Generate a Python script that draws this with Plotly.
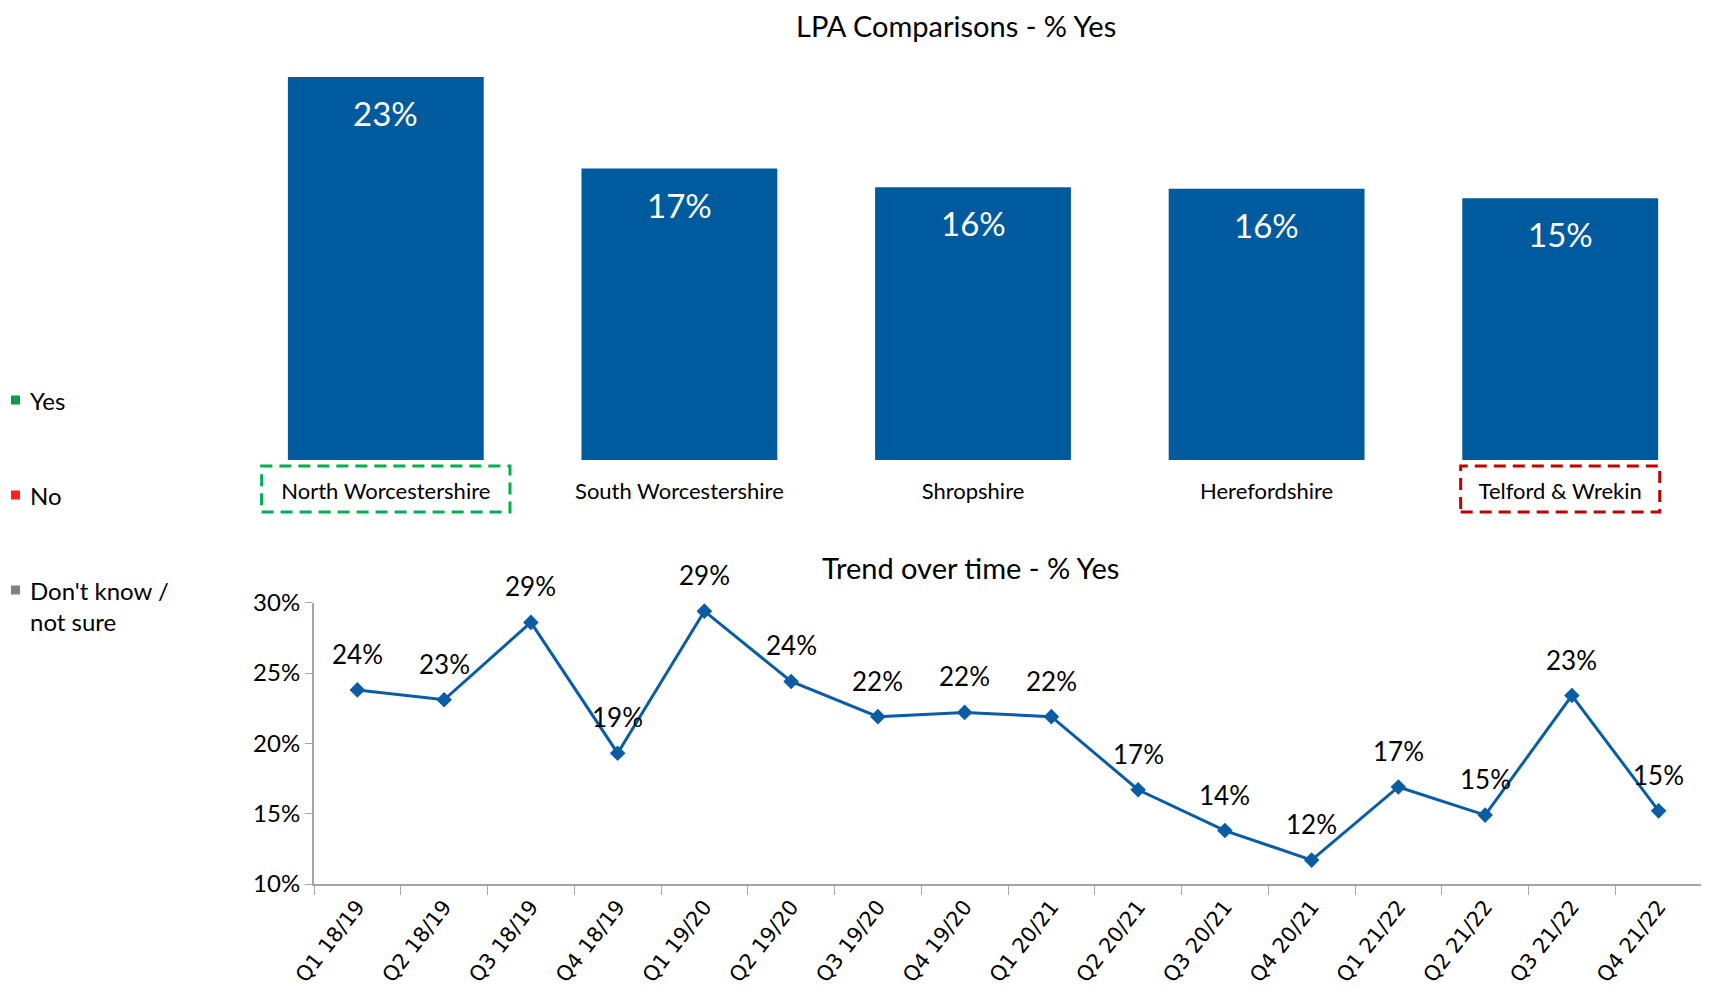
import plotly.graph_objects as go

# ---- data ----
lpa_names = ["North Worcestershire", "South Worcestershire", "Shropshire", "Herefordshire", "Telford & Wrekin"]
lpa_yes = [22.6, 17.2, 16.1, 16.0, 15.45]

quarters = ["Q1 18/19", "Q2 18/19", "Q3 18/19", "Q4 18/19",
            "Q1 19/20", "Q2 19/20", "Q3 19/20", "Q4 19/20",
            "Q1 20/21", "Q2 20/21", "Q3 20/21", "Q4 20/21",
            "Q1 21/22", "Q2 21/22", "Q3 21/22", "Q4 21/22"]
trend_yes = [23.8, 23.1, 28.6, 19.3, 29.4, 24.4, 21.9, 22.2,
             21.9, 16.7, 13.8, 11.7, 16.9, 14.9, 23.4, 15.2]

trend_ticks = [10, 15, 20, 25, 30]
trend_tick_labels = ["10%", "15%", "20%", "25%", "30%"]
legend_items = ["Yes", "No", "Don't know /<br>not sure"]
legend_colors = ["#00A04A", "#FF2020", "#808080"]

W, H = 1709, 1004
OFF = 8  # page body margin
FONT = "Lato"
BAR_COLOR = "#005A9E"
LINE_COLOR = "#0A5CA4"


def px(x):
    return (x - OFF) / W


def py(y):
    return 1 - (y - OFF) / H


fig = go.Figure()

fig.add_trace(go.Bar(
    x=lpa_names, y=lpa_yes, marker_color=BAR_COLOR, marker_line_width=0,
    xaxis="x", yaxis="y", showlegend=False, hoverinfo="x+y"))

fig.add_trace(go.Scatter(
    x=quarters, y=trend_yes, mode="lines+markers",
    line=dict(color=LINE_COLOR, width=3),
    marker=dict(symbol="diamond", size=12, color=LINE_COLOR),
    xaxis="x2", yaxis="y2", showlegend=False))

annotations = []
for name, v in zip(lpa_names, lpa_yes):
    annotations.append(dict(x=name, y=v, xref="x", yref="y", text=f"{v:.0f}%",
                            showarrow=False, yshift=-36, yanchor="middle",
                            font=dict(family=FONT, size=33, color="white")))
for q, v in zip(quarters, trend_yes):
    annotations.append(dict(x=q, y=v, xref="x2", yref="y2", text=f"{v:.0f}%",
                            showarrow=False, yshift=36, yanchor="middle",
                            font=dict(family=FONT, size=26, color="black")))

# titles
annotations.append(dict(x=px(956), y=py(26), xref="paper", yref="paper",
                        text="LPA Comparisons - % Yes", showarrow=False, borderpad=0,
                        yanchor="middle", font=dict(family=FONT, size=29, color="black")))
annotations.append(dict(x=px(970), y=py(567), xref="paper", yref="paper",
                        text="Trend over time - % Yes", showarrow=False,
                        yanchor="middle", font=dict(family=FONT, size=29, color="black")))

shapes = []
# left legend
leg_y = [400, 495, 590]
for txt, col, yy in zip(legend_items, legend_colors, leg_y):
    shapes.append(dict(type="rect", xref="paper", yref="paper",
                       x0=px(11), x1=px(20), y0=py(yy + 4.5), y1=py(yy - 4.5),
                       fillcolor=col, line_width=0))
    annotations.append(dict(x=px(28), y=py(yy - 16), xref="paper", yref="paper",
                            text=txt, showarrow=False, xanchor="left", yanchor="top", align="left",
                            font=dict(family=FONT, size=24, color="black")))

# dashed highlight boxes
shapes.append(dict(type="rect", xref="x", yref="paper",
                   x0=-0.423, x1=0.423, y0=py(512), y1=py(466),
                   line=dict(color="#00B050", width=3, dash="12px,7px")))
shapes.append(dict(type="rect", xref="x", yref="paper",
                   x0=4 - 0.339, x1=4 + 0.339, y0=py(512), y1=py(466),
                   line=dict(color="#C00000", width=3, dash="12px,7px")))

fig.update_layout(
    width=W, height=H,
    margin=dict(l=0, r=0, t=0, b=0, autoexpand=False),
    paper_bgcolor="white", plot_bgcolor="white",
    font=dict(family=FONT, color="black"),
    bargap=0.333,
    xaxis=dict(domain=[px(239), px(1707)], showline=False, showgrid=False, zeroline=False,
               ticks="", tickfont=dict(family=FONT, size=22, color="black"),
               ticklabelstandoff=16, automargin=False),
    yaxis=dict(domain=[py(460), py(40)], range=[0, 22.6 * 420 / 383],
               visible=False, showgrid=False, zeroline=False, automargin=False),
    xaxis2=dict(domain=[px(314), px(1702)], anchor="y2", showline=True, linecolor="#A6A6A6",
                linewidth=2, showgrid=False, zeroline=False, ticks="outside",
                tickson="boundaries", ticklen=9, tickcolor="#A6A6A6", tickwidth=1,
                tickangle=-52, tickfont=dict(family="DejaVu Sans", size=21, color="black"),
                range=[-0.5, 15.5], automargin=False),
    yaxis2=dict(domain=[py(884), py(602.7)], anchor="x2", range=[10, 30],
                tickmode="array", tickvals=trend_ticks, ticktext=trend_tick_labels,
                showline=True, linecolor="#A6A6A6",
                linewidth=2, showgrid=False, zeroline=False, ticks="outside", ticklen=7,
                tickcolor="#A6A6A6", tickfont=dict(family=FONT, size=24, color="black"),
                automargin=False),
    annotations=annotations,
    shapes=shapes,
)

fig.write_html("out.html")
